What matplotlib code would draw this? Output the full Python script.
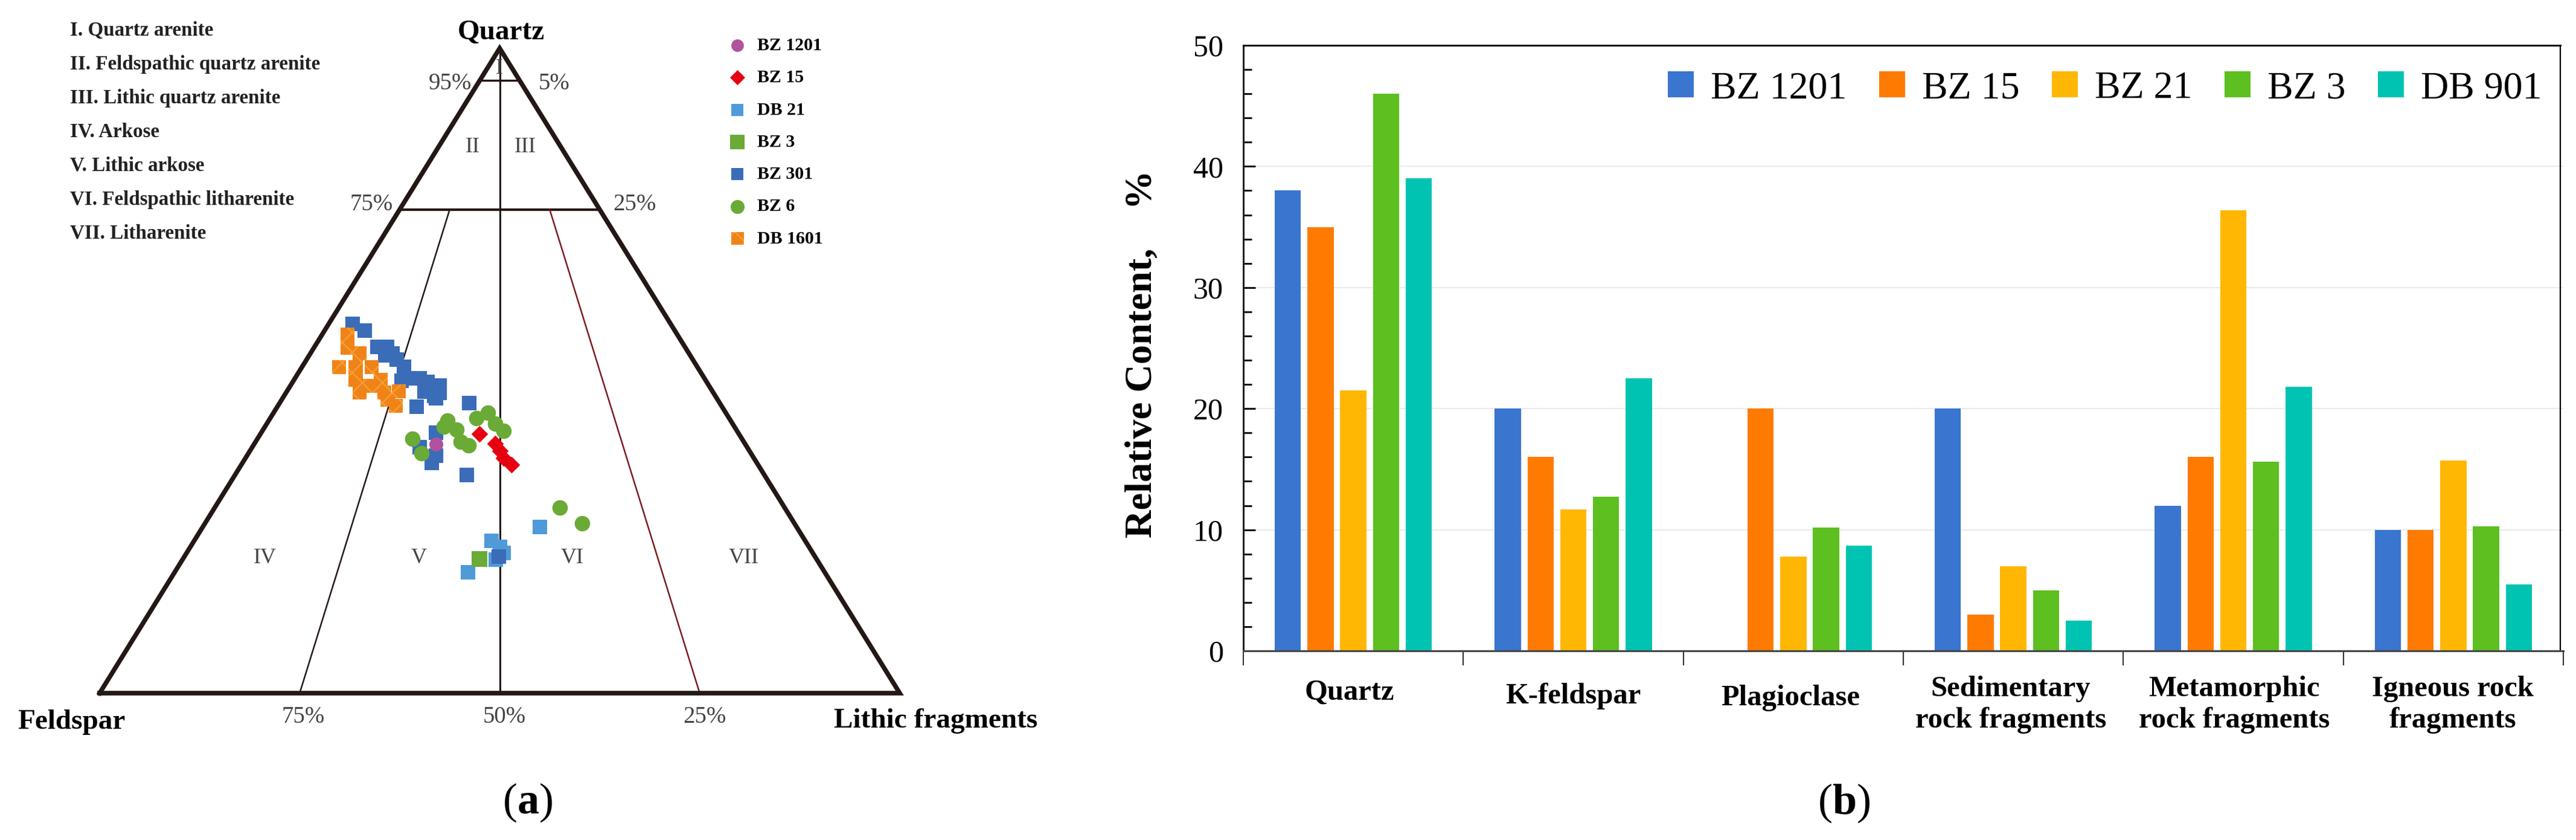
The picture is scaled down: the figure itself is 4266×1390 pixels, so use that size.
import numpy as np
import matplotlib
matplotlib.use("Agg")
import matplotlib.pyplot as plt

plt.rcParams['font.family'] = ['Liberation Serif', 'DejaVu Serif']
plt.rcParams['mathtext.fontset'] = 'custom'
plt.rcParams['mathtext.rm'] = 'Liberation Serif'
plt.rcParams['mathtext.bf'] = 'Liberation Serif:bold'
plt.rcParams['hatch.linewidth'] = 1.6

W, H = 4266, 1390

# Panel (a): Q-F-L compositions, quartz % and lithic fragments %
bz1201_q = [38.6]
bz1201_l = [22.7]
bz15_q = [40.2, 38.7, 37.6, 36.5, 35.4]
bz15_l = [27.4, 30.05, 31.2, 32.25, 33.8]
db21_q = [25.8, 23.6, 22.7, 21.7, 20.7, 18.7]
db21_l = [42.1, 37.2, 38.65, 39.65, 39.15, 36.65]
bz3_q = [20.8]
bz3_l = [37.1]
bz301_q = [57.3, 56.2, 53.7, 53.7, 52.4, 52.7, 51.7, 50.6, 49.6, 48.5, 48.8, 48.8, 48.3,
           47.7, 46.6, 46.8, 46.1, 45.7, 44.4, 45.0, 40.4, 38.1, 36.8, 35.7, 33.8, 21.2]
bz301_l = [3.0, 5.0, 7.85, 9.05, 9.5, 10.25, 11.25, 12.7, 13.2, 13.45, 14.8, 15.6, 16.85,
           18.65, 19.2, 17.2, 18.75, 19.15, 17.4, 23.7, 21.8, 20.95, 23.6, 23.65, 29.0, 39.3]
bz6_q = [39.5, 37.2, 42.3, 41.3, 40.9, 39.0, 38.4, 42.6, 43.5, 41.8, 40.7, 28.8, 26.3]
bz6_l = [19.35, 21.6, 22.35, 22.35, 24.15, 25.6, 26.9, 25.8, 26.75, 28.5, 30.15, 43.1, 47.15]
db1601_q = [55.6, 53.6, 52.7, 50.6, 50.6, 50.6, 48.6, 48.6, 46.6, 46.6, 46.8, 45.5, 44.6, 47.7, 47.7]
db1601_l = [3.2, 4.2, 6.15, 4.6, 6.7, 8.7, 7.7, 10.8, 9.2, 12.3, 14.0, 13.25, 14.7, 10.15, 8.65]

type_names = ["I. Quartz arenite", "II. Feldspathic quartz arenite", "III. Lithic quartz arenite",
              "IV. Arkose", "V. Lithic arkose", "VI. Feldspathic litharenite", "VII. Litharenite"]

# Panel (b): relative content, %
categories = ["Quartz", "K-feldspar", "Plagioclase", "Sedimentary\nrock fragments",
              "Metamorphic\nrock fragments", "Igneous rock\nfragments"]
wells = ["BZ 1201", "BZ 15", "BZ 21", "BZ 3", "DB 901"]
bar_bz1201 = [38, 20, 0, 20, 12, 10]
bar_bz15 = [35, 16, 20, 3, 16, 10]
bar_bz21 = [21.5, 11.7, 7.8, 7, 36.4, 15.7]
bar_bz3 = [46, 12.7, 10.2, 5, 15.6, 10.3]
bar_db901 = [39, 22.5, 8.7, 2.5, 21.8, 5.5]
bar_colors = ["#3a75d0", "#ff7a00", "#ffb703", "#5dbf20", "#00c3b2"]


def px_rect(x0, x1, y_top, y_bot):
    return [x0 / W, 1 - y_bot / H, (x1 - x0) / W, (y_bot - y_top) / H]


def ftext(x, y, s, **kw):
    kw.setdefault('ha', 'center')
    kw.setdefault('va', 'center')
    fig.text(x / W, 1 - y / H, s, **kw)


def to_xy(q, l):
    q = np.asarray(q, dtype=float)
    l = np.asarray(l, dtype=float)
    return l + q / 2, q


fig = plt.figure(figsize=(W / 100, H / 100), dpi=100)

# ---- ternary panel ----
ax = fig.add_axes(px_rect(165, 1490, 80, 1147))
ax.set_xlim(0, 100)
ax.set_ylim(0, 100)
ax.axis('off')

tri_x, tri_y = to_xy([0, 100, 0, 0], [0, 0, 100, 0])
ax.plot(tri_x, tri_y, color='#231815', lw=5.5, solid_joinstyle='miter', clip_on=False, zorder=3)
ax.plot(*to_xy([75, 75], [0, 25]), color='#231815', lw=3, zorder=2)
ax.plot(*to_xy([95, 95], [0, 5]), color='#231815', lw=2.5, zorder=2)
ax.plot(*to_xy([100, 0], [0, 50]), color='#231815', lw=2.2, zorder=2)
ax.plot(*to_xy([75, 0], [6.25, 25]), color='#231815', lw=1.8, zorder=2)
ax.plot(*to_xy([75, 0], [18.75, 75]), color='#7a1a1f', lw=1.8, zorder=2)

sq = 275
h_db21 = ax.scatter(*to_xy(db21_q, db21_l), s=sq, marker='s', color='#4f9ad8', lw=0, zorder=4, label="DB 21")
h_bz3 = ax.scatter(*to_xy(bz3_q, bz3_l), s=sq * 1.3, marker='s', color='#6aaa36', lw=0, zorder=5, label="BZ 3")
h_bz301 = ax.scatter(*to_xy(bz301_q, bz301_l), s=sq, marker='s', color='#3a6cb8', lw=0, zorder=6, label="BZ 301")
h_db1601 = ax.scatter(*to_xy(db1601_q, db1601_l), s=sq, marker='s', facecolor='#f08318',
                      edgecolor='#f5a033', hatch='x', lw=0, zorder=7, label="DB 1601")
h_bz1201 = ax.scatter(*to_xy(bz1201_q, bz1201_l), s=sq, marker='o', color='#b0529e', lw=0, zorder=8, label="BZ 1201")
h_bz15 = ax.scatter(*to_xy(bz15_q, bz15_l), s=200, marker='D', color='#e60012', lw=0, zorder=9, label="BZ 15")
h_bz6 = ax.scatter(*to_xy(bz6_q, bz6_l), s=340, marker='o', color='#6aaa36', lw=0, zorder=10, label="BZ 6")

ax.legend(handles=[h_bz1201, h_bz15, h_db21, h_bz3, h_bz301, h_bz6, h_db1601],
          loc='upper left', bbox_to_anchor=(1196 / W, 1 - 62 / H), bbox_transform=fig.transFigure,
          frameon=False, prop={'weight': 'bold', 'size': 21.5}, labelspacing=0.88, borderpad=0,
          borderaxespad=0, handletextpad=0.25, handlelength=1.7, markerscale=0.9, scatterpoints=1)

for name, y in zip(type_names, [51, 107, 163, 218, 274, 330, 386]):
    ftext(116, y, name, ha='left', fontweight='bold', fontsize=23.8, color='#222222')

ftext(830, 54, "Quartz", fontweight='bold', fontsize=34)
ftext(118, 1195, "Feldspar", fontweight='bold', fontsize=34)
ftext(1550, 1193, "Lithic fragments", fontweight='bold', fontsize=34)

for x, y, s in [(745, 138, "95%"), (918, 138, "5%"), (615, 339, "75%"), (1051, 339, "25%"),
                (502, 1187, "75%"), (835, 1187, "50%"), (1167, 1187, "25%")]:
    ftext(x, y, s, fontsize=28, color='#444444')

for x, y, s in [(827, 114, "I"), (783, 244, "II"), (870, 244, "III"), (439, 924, "IV"),
                (694, 924, "V"), (948, 924, "VI"), (1232, 924, "VII")]:
    ftext(x, y, s, fontsize=26, color='#444444')

ftext(874, 1328, r"($\mathbf{a}$)", fontsize=52)
ftext(3054, 1329, r"($\mathbf{b}$)", fontsize=52)

# ---- bar panel ----
bx = fig.add_axes(px_rect(2059, 4245, 75, 1077))
x = np.arange(len(categories)) + 0.5
series = [bar_bz1201, bar_bz15, bar_bz21, bar_bz3, bar_db901]
bar_w = 0.119
step = 0.149
for i, (vals, name, col) in enumerate(zip(series, wells, bar_colors)):
    bx.bar(x + (i - 2) * step, vals, width=bar_w, color=col, label=name, zorder=2)

bx.set_xlim(0, 6)
bx.set_ylim(0, 50)
bx.set_yticks(np.arange(0, 51, 10))
bx.set_yticks(np.arange(0, 51, 2), minor=True)
bx.set_xticks(np.arange(0, 7))
bx.set_xticks(x, minor=True)
bx.set_xticklabels([])
bx.grid(axis='y', color='#ebebeb', lw=1.6, zorder=0)
bx.set_axisbelow(True)
bx.tick_params(axis='y', which='major', direction='in', length=14.5, width=2, labelsize=36, pad=24)
bx.tick_params(axis='y', which='minor', direction='in', length=10, width=2)
bx.tick_params(axis='x', which='major', direction='out', length=17, width=1.5, color='#333333')
bx.tick_params(axis='x', which='minor', direction='in', length=11.5, width=1.5, color='#333333')
for side in ['top', 'left', 'right', 'bottom']:
    bx.spines[side].set_linewidth(2.2)
bx.spines['top'].set_color('#111111')
bx.spines['bottom'].set_color('#444444')
bx.spines['left'].set_color('#222222')
bx.spines['right'].set_position(('data', 5.985))
bx.spines['right'].set_linewidth(1.6)
bx.spines['top'].set_bounds(0, 5.985)

bx.legend(loc='upper left', bbox_to_anchor=(2762 / W, 1 - 118 / H), bbox_transform=fig.transFigure,
          ncol=5, frameon=False, fontsize=46, borderpad=0, borderaxespad=0, handlelength=0.67,
          handleheight=0.67, handletextpad=0.44, columnspacing=0.84)

for s, cx, cy in zip(categories, [2235, 2605, 2965, 3330, 3700, 4062], [1146, 1152, 1155, 1166, 1166, 1166]):
    ftext(cx, cy, s, fontweight='bold', fontsize=35, linespacing=1.25)

ftext(1892, 586, "Relative Content,    %", fontweight='bold', fontsize=46.4, rotation=90)

fig.savefig("out.png", dpi=100, facecolor='white')
